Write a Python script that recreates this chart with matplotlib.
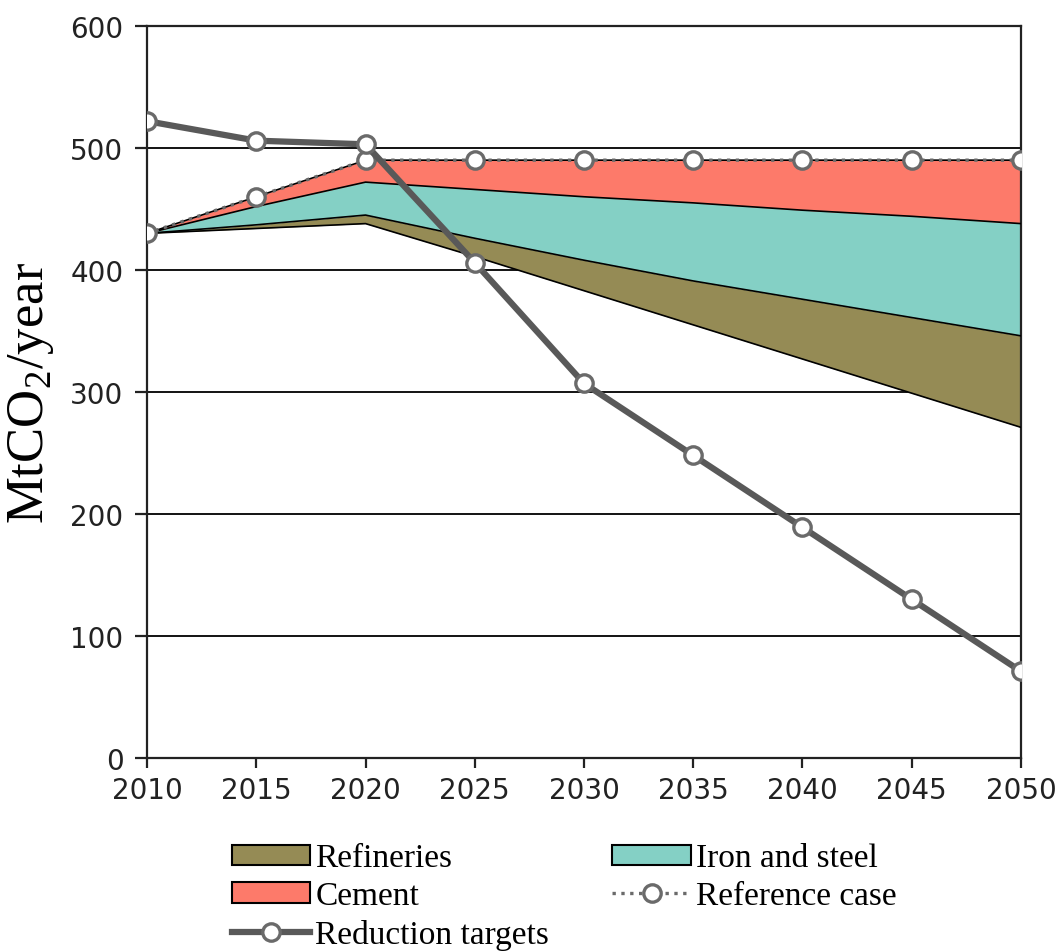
import numpy as np
import matplotlib
matplotlib.use("Agg")
import matplotlib.pyplot as plt
from matplotlib.patches import Patch
from matplotlib.lines import Line2D

plt.rcParams["mathtext.fontset"] = "custom"
plt.rcParams["mathtext.rm"] = "Liberation Serif"

# Years on the x axis
years = [2010, 2015, 2020, 2025, 2030, 2035, 2040, 2045, 2050]

# Remaining emissions after all sector reductions (white area, lower edge of bands)
remaining = [430, 434, 438, 411, 383, 355, 327, 299, 271]
# Reductions per sector, stacked on top of remaining (MtCO2/year)
refineries = [0, 3, 7, 15, 25, 36, 49, 62, 75]
iron_steel = [0, 15, 27, 40, 52, 64, 73, 83, 92]
cement = [0, 8, 18, 24, 30, 35, 41, 46, 52]

reference_case = [430, 460, 490, 490, 490, 490, 490, 490, 490]
reduction_targets = [522, 506, 503, 406, 307, 248, 189, 130, 71]

colors = {
    "Refineries": "#958b55",
    "Iron and steel": "#84d0c5",
    "Cement": "#fd7a6a",
}

fig = plt.figure(figsize=(10.6, 9.53), dpi=100)
ax = fig.add_axes([0.1387, 0.2036, 0.8245, 0.7681])

x = np.array(years)
base = np.array(remaining, dtype=float)
layers = [("Refineries", refineries), ("Iron and steel", iron_steel), ("Cement", cement)]
lower = base.copy()
ax.plot(x, lower, color="black", lw=1.2, zorder=3)
for name, vals in layers:
    upper = lower + np.array(vals)
    ax.fill_between(x, lower, upper, color=colors[name], lw=0, zorder=2)
    ax.plot(x, upper, color="black", lw=1.2, zorder=3)
    lower = upper

marker_kw = dict(marker="o", markersize=12.5, markerfacecolor="white",
                 markeredgecolor="#6a6a6a", markeredgewidth=2.4)
ax.plot(x, reference_case, color="#6a6a6a", lw=2.4, ls=":", zorder=4, **marker_kw)
ax.plot(x, reduction_targets, color="#595959", lw=4.5, zorder=5, **marker_kw)

ax.set_xlim(2010, 2050)
ax.set_ylim(0, 600)
ax.set_xticks(years)
ax.set_yticks(range(0, 601, 100))
ax.yaxis.grid(True, color="black", lw=1.3, zorder=1)
ax.set_axisbelow(True)
for side in ["left", "bottom", "right", "top"]:
    ax.spines[side].set_linewidth(1.6)
    ax.spines[side].set_color("#222222")
ax.tick_params(axis="both", labelsize=20, colors="#222222", width=1.6)
ax.tick_params(axis="y", length=9, pad=8)
ax.tick_params(axis="x", length=7, pad=6)

ax.set_ylabel("MtCO$_\\mathrm{2}$/year", family="Liberation Serif", fontsize=38, labelpad=10)

handles = [
    Patch(facecolor=colors["Refineries"], edgecolor="black", lw=1.5, label="Refineries"),
    Patch(facecolor=colors["Cement"], edgecolor="black", lw=1.5, label="Cement"),
    Line2D([], [], color="#595959", lw=4.5, label="Reduction targets", **marker_kw),
    Patch(facecolor=colors["Iron and steel"], edgecolor="black", lw=1.5, label="Iron and steel"),
    Line2D([], [], color="#6a6a6a", lw=2.4, ls=":", label="Reference case", **marker_kw),
]
fig.legend(handles=handles, ncol=2, loc="lower left", bbox_to_anchor=(0.203, -0.015),
           frameon=False, prop={"family": "Liberation Serif", "size": 24},
           handlelength=2.35, handleheight=0.55, handletextpad=0.15, borderpad=0,
           columnspacing=1.9, labelspacing=0.22)

fig.savefig("out.png", dpi=100)
